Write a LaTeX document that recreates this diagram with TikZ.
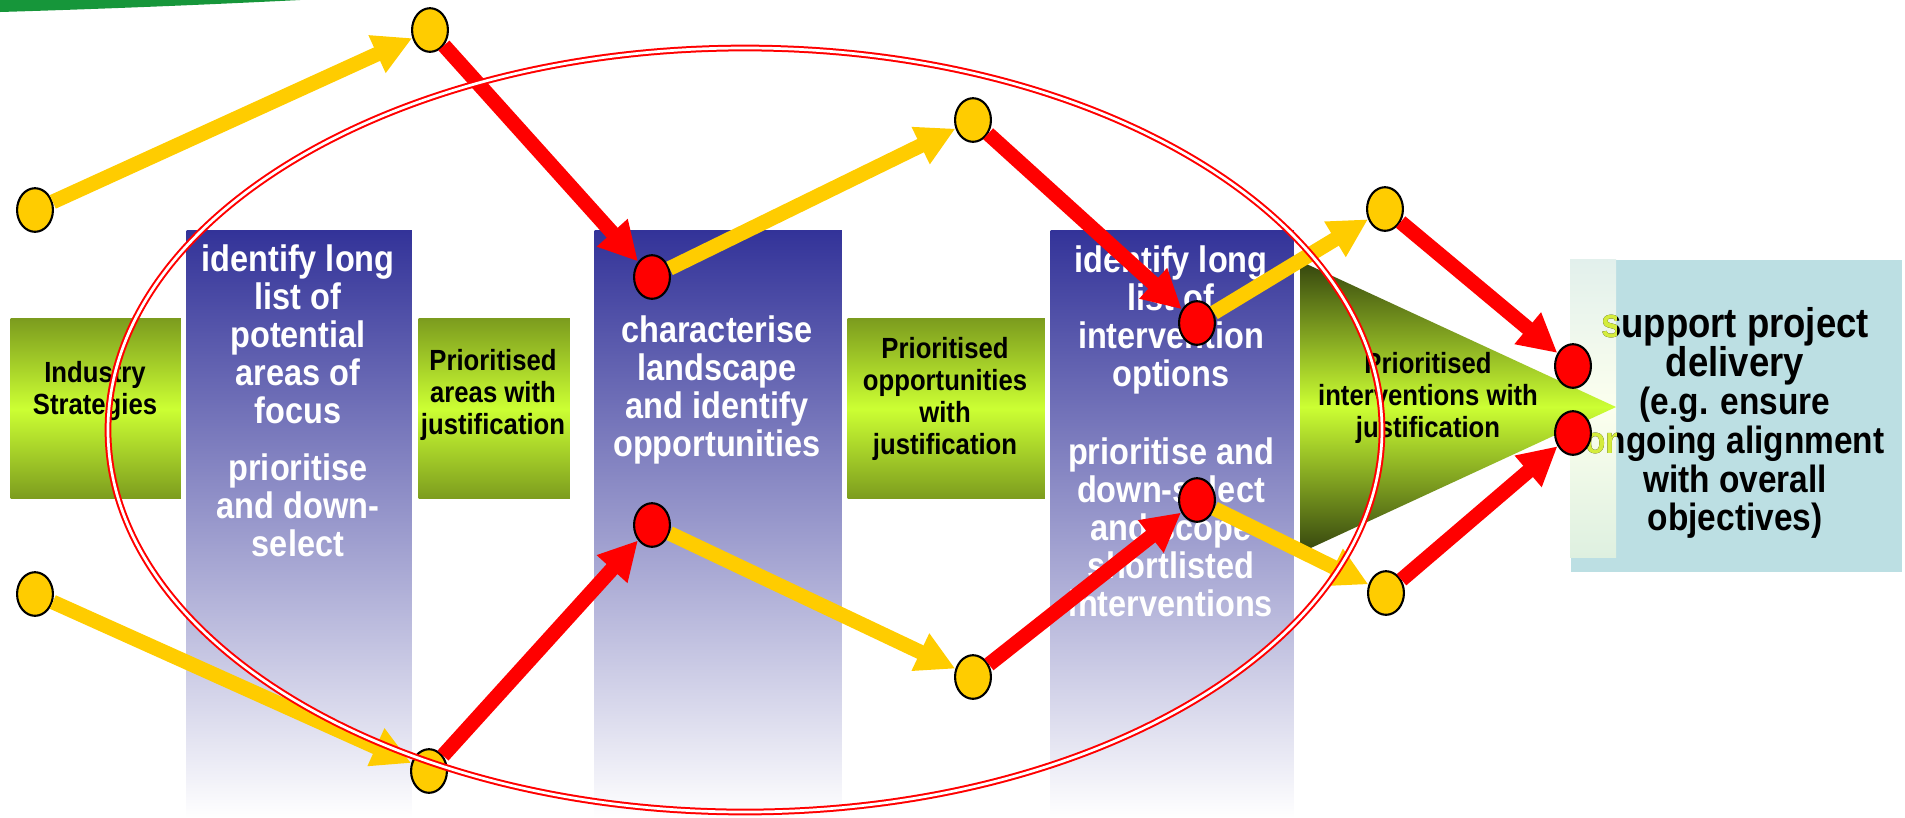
\documentclass[tikz,border=0pt]{standalone}
\usepackage{fontspec}
\setmainfont{Liberation Sans}[FakeStretch=0.88]
\usepackage{xcolor}
\usepackage{tikz}
\usetikzlibrary{arrows.meta, shapes.geometric}

\definecolor{dotyellow}{RGB}{255,204,0}
\definecolor{dotred}{RGB}{255,0,0}
\definecolor{colblue}{RGB}{51,51,153}
\definecolor{limegreen}{RGB}{204,255,51}
\definecolor{olivegreen}{RGB}{124,156,30}
\definecolor{darkolive}{RGB}{52,68,14}
\definecolor{paleblue}{RGB}{188,223,227}
\definecolor{swoosh}{RGB}{22,150,58}
\definecolor{striptint}{RGB}{212,236,60}
\definecolor{striptop}{RGB}{226,240,236}
\definecolor{stripmid}{RGB}{252,255,238}
\definecolor{stripbot}{RGB}{222,240,224}

\newcommand{\smallgoal}{\fontsize{10.8}{11}\selectfont}
\newcommand{\goalwords}{support project\\delivery\\\smallgoal(e.g. ensure\\\smallgoal ongoing alignment\\\smallgoal with overall\\\smallgoal objectives)}

\begin{document}
\begin{tikzpicture}[x=0.01cm, y=-0.01cm, >={Triangle[length=11pt, width=11pt]}]
\tikzstyle{ydot} = [draw=black, line width=0.6pt, ellipse, fill=dotyellow, minimum width=10.2pt, minimum height=12.4pt, inner sep=0pt]
\tikzstyle{rdot} = [ydot, fill=dotred]
\tikzstyle{col} = [anchor=north west, inner sep=0pt, top color=colblue, bottom color=white, minimum height=5.87cm]
\tikzstyle{gbox} = [anchor=north west, inner sep=0pt, top color=olivegreen, bottom color=olivegreen, middle color=limegreen, minimum height=1.8cm]
\tikzstyle{wtext} = [align=center, text=white, font=\fontsize{10.5}{10.8}\selectfont\bfseries]
\tikzstyle{btext} = [align=center, text=black, font=\fontsize{8.3}{9.1}\selectfont\bfseries]
\tikzstyle{gtext} = [align=center, text=black, font=\fontsize{11.8}{11}\selectfont\bfseries]
\tikzstyle{yline} = [draw=dotyellow, line width=4.2pt]
\tikzstyle{rline} = [yline, draw=dotred]
\tikzstyle{ring} = [draw=red, line width=0.57pt, double=white, double distance=0.77pt]

\useasboundingbox (0,0) rectangle (1905,817);

% green swoosh in the corner
\fill[swoosh] (0,0) -- (300,0) .. controls (200,5) and (100,9) .. (0,12) -- cycle;

% columns and boxes
\node[col, minimum width=2.25cm]	at (186, 230)	(col1)	{};
\node[col, minimum width=2.47cm]	at (594, 230)	(col2)	{};
\node[col, minimum width=2.43cm]	at (1050, 230)	(col3)	{};
\node[gbox, minimum width=1.70cm]	at (10, 318)	(box1)	{};
\node[gbox, minimum width=1.51cm]	at (418, 318)	(box2)	{};
\node[gbox, minimum width=1.97cm]	at (847, 318)	(box3)	{};
\node[fill=paleblue, anchor=north west, inner sep=0pt, minimum width=3.31cm, minimum height=3.12cm]	at (1570, 259)	(goal)	{};

% pale strip on the left of the goal box, text shows through tinted
\shade[top color=striptop, bottom color=stripbot, middle color=stripmid] (1570,259) rectangle (1616,557);
\node[gtext]	at (1735, 423)	(goaltxt)	{\goalwords};
\begin{scope}
\clip (1570,259) rectangle (1616,557);
\node[gtext, text=striptint]	at (1735, 423)	(goaltint)	{\goalwords};
\end{scope}

\shade[top color=darkolive, bottom color=darkolive, middle color=limegreen]
  (1300,261) -- (1616,407) -- (1300,553) -- cycle;

% texts
\node[wtext]	at (298, 401)	(col1txt)	{identify long\\list of\\potential\\areas of\\focus\\[5.4pt]prioritise\\and down-\\select};
\node[wtext]	at (717, 390)	(col2txt)	{characterise\\landscape\\and identify\\opportunities};
\node[wtext]	at (1171, 431)	(col3txt)	{identify long\\list of\\intervention\\options\\[11.4pt]prioritise and\\down-select\\and scope\\shortlisted\\interventions};
\node[btext]	at (95, 391)	(box1txt)	{Industry\\Strategies};
\node[btext]	at (493, 395)	(box2txt)	{Prioritised\\areas with\\justification};
\node[btext]	at (945, 399)	(box3txt)	{Prioritised\\opportunities\\with\\justification};
\node[btext]	at (1428, 398)	(tritxt)	{Prioritised\\interventions with\\justification};

% the two paths
\node[ydot]	at (35, 210)	(t0)	{};
\node[ydot]	at (430, 30)	(t1)	{};
\node[rdot]	at (652, 277)	(t2)	{};
\node[ydot]	at (973, 120)	(t3)	{};
\node[rdot]	at (1197, 323)	(t4)	{};
\node[ydot]	at (1385, 209)	(t5)	{};
\node[rdot]	at (1573, 366)	(t6)	{};
\node[ydot]	at (35, 594)	(b0)	{};
\node[ydot]	at (429, 771)	(b1)	{};
\node[rdot]	at (652, 525)	(b2)	{};
\node[ydot]	at (973, 677)	(b3)	{};
\node[rdot]	at (1197, 500)	(b4)	{};
\node[ydot]	at (1386, 593)	(b5)	{};
\node[rdot]	at (1573, 433)	(b6)	{};

\path[->]
(t0)	edge[yline]	(t1)
(t1)	edge[rline]	(t2)
(t2)	edge[yline]	(t3)
(t3)	edge[rline]	(t4)
(t4)	edge[yline]	(t5)
(t5)	edge[rline]	(t6)
(b0)	edge[yline]	(b1)
(b1)	edge[rline]	(b2)
(b2)	edge[yline]	(b3)
(b3)	edge[rline]	(b4)
(b4)	edge[yline]	(b5)
(b5)	edge[rline]	(b6);

\draw[ring] (745,430) ellipse [x radius=637, y radius=382];
\end{tikzpicture}
\end{document}
